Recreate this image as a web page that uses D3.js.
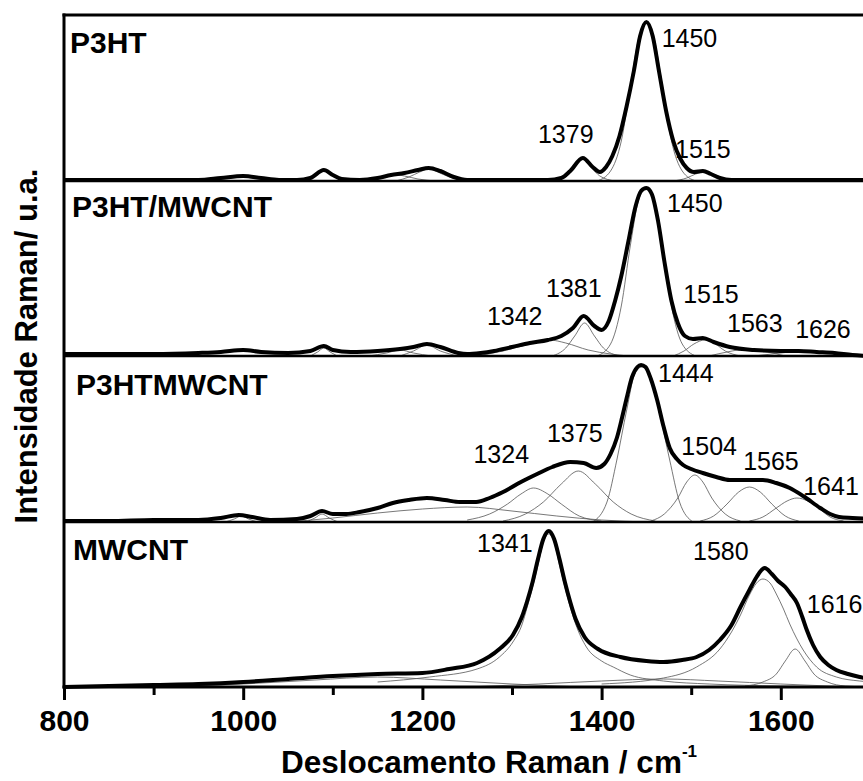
<!DOCTYPE html>
<html><head><meta charset="utf-8">
<script src="https://cdn.jsdelivr.net/npm/d3@7"></script>
<style>
html,body{margin:0;padding:0;background:#fff;}
svg text{font-family:"Liberation Sans",Arial,sans-serif;}
</style></head>
<body><svg id="chart" width="863" height="781"></svg>
<script>
// ---------------- DATA ----------------
const xTicksMajor = [800, 1000, 1200, 1400, 1600];
const xTicksMinor = [900, 1100, 1300, 1500, 1700];
const xDomain = [800, 1700];
const panelNames = ["P3HT", "P3HT/MWCNT", "P3HTMWCNT", "MWCNT"];
const panelMaxIntensity = [166, 175, 166, 165];

// P3HT total spectrum [wavenumber, intensity a.u.]
const p3htTotal = [[800,1],[830,1],[860,1],[900,1],[950,1],[975,3],[1000,5],[1020,3],[1040,1],[1060,1],[1075,3],[1090,11],[1100,6],[1110,2],[1130,1],[1150,3],[1165,6],[1180,8],[1195,11],[1207,13],[1220,10],[1235,4],[1250,1],[1300,1],[1340,1],[1355,3],[1365,10],[1379,23],[1390,14],[1398,9],[1405,14],[1412,25],[1420,45],[1428,75],[1436,110],[1443,145],[1450,159],[1457,145],[1464,110],[1472,70],[1480,40],[1488,22],[1495,13],[1503,9],[1513,10],[1522,7],[1532,3],[1545,1],[1600,1],[1650,1],[1700,1]];
const p3htComponents = [
  [[1130,0],[1150,2],[1165,5],[1172,6],[1180,5],[1195,2],[1215,0]],
  [[1170,0],[1185,4],[1197,9],[1207,12],[1217,9],[1230,4],[1250,0]],
  [[1345,0],[1360,5],[1370,14],[1379,22],[1388,14],[1398,5],[1415,0]],
  [[1395,0],[1410,10],[1422,40],[1433,100],[1442,145],[1450,158],[1458,145],[1467,100],[1478,40],[1490,10],[1505,0]],
  [[1480,0],[1495,3],[1505,7],[1515,9],[1525,7],[1535,3],[1550,0]]
];
const p3htLabels = [{t:"1450",x:1467,y:134},{t:"1379",x:1329,y:38},{t:"1515",x:1482,y:23}];

// P3HT/MWCNT
const p3htMwcntTotal = [[800,2],[850,2],[900,2],[950,3],[975,4],[1000,6],[1020,4],[1050,3],[1075,5],[1090,10],[1100,6],[1120,4],[1150,5],[1175,7],[1190,9],[1205,12],[1220,9],[1240,3],[1250,2],[1265,3],[1280,5],[1300,9],[1320,13],[1340,16],[1355,20],[1368,28],[1380,40],[1392,30],[1400,26],[1408,35],[1415,55],[1422,80],[1430,115],[1438,150],[1444,165],[1450,168],[1456,162],[1463,135],[1470,95],[1478,55],[1485,33],[1493,20],[1502,17],[1513,18],[1525,14],[1543,9],[1570,6],[1600,5],[1620,5],[1640,4],[1660,3],[1680,1],[1700,0]];
const p3htMwcntComponents = [
  [[1075,0],[1083,4],[1090,8],[1097,4],[1105,0]],
  [[1140,0],[1160,3],[1175,6],[1190,3],[1210,0]],
  [[1175,0],[1190,5],[1205,11],[1220,5],[1240,0]],
  [[1260,0],[1290,5],[1320,12],[1342,16],[1360,13],[1385,6],[1410,2],[1430,0]],
  [[1345,0],[1360,8],[1370,20],[1381,33],[1392,20],[1402,8],[1420,0]],
  [[1395,0],[1410,12],[1422,50],[1432,110],[1442,158],[1450,167],[1458,158],[1468,110],[1478,50],[1490,12],[1505,0]],
  [[1480,0],[1492,5],[1503,12],[1515,16],[1527,12],[1538,5],[1555,0]],
  [[1520,0],[1540,4],[1563,7],[1585,4],[1605,0]],
  [[1570,0],[1600,3],[1626,5],[1650,3],[1680,0]]
];
const p3htMwcntLabels = [{t:"1450",x:1473,y:144},{t:"1381",x:1338,y:59},{t:"1342",x:1272,y:31},{t:"1515",x:1491,y:53},{t:"1563",x:1540,y:24},{t:"1626",x:1616,y:18}];

// P3HTMWCNT
const p3htmwcntTotal = [[800,1],[850,1],[900,2],[950,2],[975,4],[995,7],[1010,5],[1030,2],[1060,3],[1075,6],[1088,11],[1100,8],[1115,8],[1130,10],[1150,14],[1167,19],[1185,22],[1205,24],[1225,22],[1242,20],[1260,20],[1275,24],[1290,30],[1310,40],[1328,48],[1345,55],[1365,60],[1380,59],[1394,54],[1403,58],[1410,68],[1417,84],[1423,105],[1428,124],[1434,145],[1440,155],[1444,157],[1449,155],[1455,143],[1462,122],[1469,96],[1476,74],[1484,63],[1491,57],[1500,53],[1513,49],[1528,45],[1543,42],[1560,42],[1580,42],[1595,39],[1610,34],[1625,26],[1644,14],[1655,8],[1665,5],[1680,4],[1700,3]];
const p3htmwcntComponents = [
  [[980,0],[990,3],[998,6],[1006,3],[1016,0]],
  [[1070,0],[1080,4],[1088,8],[1096,4],[1106,0]],
  [[1050,0],[1100,4],[1150,9],[1200,13],[1250,15],[1300,11],[1350,6],[1400,2],[1450,0]],
  [[1250,2],[1275,8],[1295,18],[1310,28],[1324,34],[1340,28],[1355,18],[1375,6],[1400,1]],
  [[1290,1],[1315,8],[1335,20],[1355,38],[1374,51],[1393,38],[1413,20],[1433,8],[1460,1]],
  [[1390,0],[1406,20],[1417,62],[1428,112],[1437,148],[1445,155],[1454,148],[1464,112],[1476,62],[1487,20],[1502,0]],
  [[1455,1],[1470,8],[1485,24],[1495,40],[1504,47],[1513,40],[1523,24],[1538,8],[1555,1]],
  [[1510,1],[1525,6],[1540,18],[1553,30],[1565,35],[1577,30],[1590,18],[1605,6],[1620,1]],
  [[1565,1],[1580,5],[1595,14],[1607,21],[1618,24],[1630,21],[1642,14],[1655,5],[1670,1]]
];
const p3htmwcntLabels = [{t:"1444",x:1463,y:140},{t:"1375",x:1339,y:80},{t:"1324",x:1257,y:59},{t:"1504",x:1489,y:67},{t:"1565",x:1558,y:52},{t:"1641",x:1625,y:27}];

// MWCNT
const mwcntTotal = [[800,0],[850,1],[900,2],[950,3],[1000,5],[1050,8],[1100,11],[1150,13],[1200,14],[1230,18],[1261,24],[1286,38],[1301,52],[1311,70],[1317,86],[1323,105],[1329,128],[1335,148],[1341,156],[1347,148],[1353,128],[1359,105],[1365,85],[1371,68],[1381,50],[1396,38],[1421,30],[1450,26],[1469,25],[1490,27],[1506,30],[1520,37],[1532,47],[1545,62],[1555,80],[1565,97],[1573,110],[1582,119],[1590,113],[1597,106],[1605,100],[1611,93],[1618,84],[1624,70],[1629,57],[1636,42],[1644,30],[1653,22],[1662,17],[1675,13],[1688,10],[1700,8]];
const mwcntComponents = [
  [[900,0],[1000,3],[1080,7],[1150,10],[1220,7],[1300,3],[1380,0]],
  [[1150,5],[1208,10],[1261,18],[1286,30],[1301,45],[1311,62],[1317,80],[1323,100],[1329,122],[1335,145],[1341,153],[1347,145],[1353,122],[1359,100],[1365,80],[1371,63],[1383,40],[1400,26],[1413,20],[1432,12],[1469,6],[1520,3],[1600,1],[1700,0]],
  [[1250,0],[1330,3],[1400,6],[1469,8],[1530,6],[1600,3],[1680,0]],
  [[1400,3],[1469,9],[1506,20],[1532,38],[1545,55],[1555,72],[1565,92],[1573,104],[1580,108],[1588,104],[1595,93],[1603,78],[1610,63],[1625,37],[1640,20],[1662,10],[1688,6],[1700,5]],
  [[1560,1],[1580,5],[1595,13],[1605,26],[1616,38],[1627,26],[1637,13],[1652,5],[1672,1],[1700,0]]
];
const mwcntLabels = [{t:"1341",x:1261,y:135},{t:"1580",x:1502,y:127},{t:"1616",x:1629,y:74}];

// ---------------- LAYOUT ----------------
const W = 863, H = 781;
const left = 64, rightRange = 870.4;
const panelTops = [15, 181, 356, 522];
const panelBottoms = [181, 356, 522, 687];
const font = '"Liberation Sans",Arial,sans-serif';

const svg = d3.select("#chart");
const x = d3.scaleLinear().domain(xDomain).range([left, rightRange]);

const panels = [
  {name: panelNames[0], total: p3htTotal, comps: p3htComponents, labels: p3htLabels, nameXY:[70,53]},
  {name: panelNames[1], total: p3htMwcntTotal, comps: p3htMwcntComponents, labels: p3htMwcntLabels, nameXY:[72,217]},
  {name: panelNames[2], total: p3htmwcntTotal, comps: p3htmwcntComponents, labels: p3htmwcntLabels, nameXY:[76,395]},
  {name: panelNames[3], total: mwcntTotal, comps: mwcntComponents, labels: mwcntLabels, nameXY:[73,560]}
];

svg.append("defs").append("clipPath").attr("id","plotclip")
  .append("rect").attr("x", left).attr("y", 10).attr("width", W - left).attr("height", 680);

const gCurves = svg.append("g").attr("clip-path","url(#plotclip)");

panels.forEach((p, i) => {
  const y = d3.scaleLinear().domain([0, panelMaxIntensity[i]]).range([panelBottoms[i], panelTops[i]]);
  const line = d3.line().x(d => x(d[0])).y(d => y(d[1])).curve(d3.curveMonotoneX);
  gCurves.selectAll(null).data(p.comps).enter().append("path")
    .attr("d", line).attr("fill","none").attr("stroke","#555").attr("stroke-width",0.8);
  if (i < 3) {
    svg.append("line").attr("x1", left).attr("x2", W).attr("y1", panelBottoms[i]).attr("y2", panelBottoms[i])
      .attr("stroke","#000").attr("stroke-width",2.5);
  }
  p.line = line; p.y = y;
});

svg.append("line").attr("x1", left-1.5).attr("x2", W).attr("y1", panelTops[0]).attr("y2", panelTops[0])
  .attr("stroke","#000").attr("stroke-width",3);
svg.append("line").attr("x1", left).attr("x2", left).attr("y1", panelTops[0]-1.5).attr("y2", panelBottoms[3]+1.5)
  .attr("stroke","#000").attr("stroke-width",3);

panels.forEach((p, i) => {
  gCurves.append("path").datum(p.total).attr("d", p.line)
    .attr("fill","none").attr("stroke","#000").attr("stroke-width",4).attr("stroke-linejoin","round");
});

const axisMajor = d3.axisBottom(x).tickValues(xTicksMajor).tickSize(13).tickPadding(10).tickFormat(d3.format("d"));
const gAx = svg.append("g").attr("transform",`translate(0,${panelBottoms[3]})`).call(axisMajor);
gAx.select(".domain").remove();
gAx.selectAll(".tick line").attr("stroke","#000").attr("stroke-width",3);
gAx.selectAll(".tick text").attr("font-size",30).attr("font-weight","bold").attr("fill","#000").style("font-family",font);
const axisMinor = d3.axisBottom(x).tickValues(xTicksMinor).tickSize(8).tickFormat("");
const gAxm = svg.append("g").attr("transform",`translate(0,${panelBottoms[3]})`).call(axisMinor);
gAxm.select(".domain").remove();
gAxm.selectAll(".tick line").attr("stroke","#000").attr("stroke-width",3);
svg.append("line").attr("x1", left-1.5).attr("x2", W).attr("y1", panelBottoms[3]).attr("y2", panelBottoms[3])
  .attr("stroke","#000").attr("stroke-width",3);

panels.forEach((p, i) => {
  svg.append("text").attr("x", p.nameXY[0]).attr("y", p.nameXY[1]).text(p.name)
    .attr("font-size",30).attr("font-weight","bold").attr("fill","#000");
  svg.selectAll(null).data(p.labels).enter().append("text")
    .attr("x", d => x(d.x)).attr("y", d => p.y(d.y)).text(d => d.t)
    .attr("font-size",25).attr("fill","#000");
});

const xt = svg.append("text").attr("x", 281).attr("y", 773).attr("font-size",31.5).attr("font-weight","bold").attr("fill","#000");
xt.append("tspan").text("Deslocamento Raman / cm");
xt.append("tspan").text("-1").attr("font-size",17).attr("dy",-16);

svg.append("text").attr("transform","translate(37,346) rotate(-90)").attr("text-anchor","middle")
  .attr("font-size",31).attr("font-weight","bold").attr("fill","#000").text("Intensidade Raman/ u.a.");
</script></body></html>
